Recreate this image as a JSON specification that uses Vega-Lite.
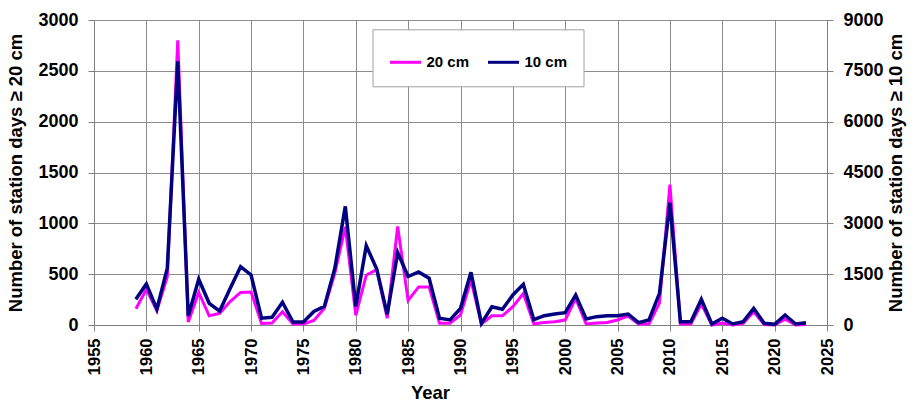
{
  "$schema": "https://vega.github.io/schema/vega-lite/v6.json",
  "width": 733,
  "height": 305,
  "autosize": {"type": "none"},
  "padding": {"left": 94, "top": 20, "right": 91, "bottom": 78},
  "background": "white",
  "config": {
    "view": {"stroke": null},
    "font": "Liberation Sans",
    "axis": {
      "labelFont": "Liberation Sans",
      "labelFontWeight": "bold",
      "labelColor": "black",
      "titleFont": "Liberation Sans",
      "titleFontWeight": "bold",
      "titleColor": "black",
      "titleFontSize": 18.5,
      "domainColor": "#808080",
      "tickColor": "#808080",
      "gridColor": "#8c8c8c",
      "gridWidth": 1,
      "gridOpacity": 1,
      "tickSize": 6
    }
  },
  "datasets": {
    "snow": [
      {"year": 1959, "series": "20 cm", "days": 160}, {"year": 1959, "series": "10 cm", "days": 760},
      {"year": 1960, "series": "20 cm", "days": 350}, {"year": 1960, "series": "10 cm", "days": 1210},
      {"year": 1961, "series": "20 cm", "days": 140}, {"year": 1961, "series": "10 cm", "days": 470},
      {"year": 1962, "series": "20 cm", "days": 475}, {"year": 1962, "series": "10 cm", "days": 1675},
      {"year": 1963, "series": "20 cm", "days": 2800}, {"year": 1963, "series": "10 cm", "days": 7780},
      {"year": 1964, "series": "20 cm", "days": 30}, {"year": 1964, "series": "10 cm", "days": 265},
      {"year": 1965, "series": "20 cm", "days": 320}, {"year": 1965, "series": "10 cm", "days": 1350},
      {"year": 1966, "series": "20 cm", "days": 90}, {"year": 1966, "series": "10 cm", "days": 640},
      {"year": 1967, "series": "20 cm", "days": 115}, {"year": 1967, "series": "10 cm", "days": 410},
      {"year": 1968, "series": "20 cm", "days": 230}, {"year": 1968, "series": "10 cm", "days": 1080},
      {"year": 1969, "series": "20 cm", "days": 320}, {"year": 1969, "series": "10 cm", "days": 1720},
      {"year": 1970, "series": "20 cm", "days": 325}, {"year": 1970, "series": "10 cm", "days": 1476},
      {"year": 1971, "series": "20 cm", "days": 15}, {"year": 1971, "series": "10 cm", "days": 200},
      {"year": 1972, "series": "20 cm", "days": 20}, {"year": 1972, "series": "10 cm", "days": 228},
      {"year": 1973, "series": "20 cm", "days": 130}, {"year": 1973, "series": "10 cm", "days": 670},
      {"year": 1974, "series": "20 cm", "days": 10}, {"year": 1974, "series": "10 cm", "days": 90},
      {"year": 1975, "series": "20 cm", "days": 10}, {"year": 1975, "series": "10 cm", "days": 90},
      {"year": 1976, "series": "20 cm", "days": 45}, {"year": 1976, "series": "10 cm", "days": 400},
      {"year": 1977, "series": "20 cm", "days": 165}, {"year": 1977, "series": "10 cm", "days": 550},
      {"year": 1978, "series": "20 cm", "days": 510}, {"year": 1978, "series": "10 cm", "days": 1675},
      {"year": 1979, "series": "20 cm", "days": 965}, {"year": 1979, "series": "10 cm", "days": 3500},
      {"year": 1980, "series": "20 cm", "days": 95}, {"year": 1980, "series": "10 cm", "days": 550},
      {"year": 1981, "series": "20 cm", "days": 490}, {"year": 1981, "series": "10 cm", "days": 2340},
      {"year": 1982, "series": "20 cm", "days": 545}, {"year": 1982, "series": "10 cm", "days": 1650},
      {"year": 1983, "series": "20 cm", "days": 66}, {"year": 1983, "series": "10 cm", "days": 315},
      {"year": 1984, "series": "20 cm", "days": 970}, {"year": 1984, "series": "10 cm", "days": 2135},
      {"year": 1985, "series": "20 cm", "days": 240}, {"year": 1985, "series": "10 cm", "days": 1430},
      {"year": 1986, "series": "20 cm", "days": 375}, {"year": 1986, "series": "10 cm", "days": 1565},
      {"year": 1987, "series": "20 cm", "days": 375}, {"year": 1987, "series": "10 cm", "days": 1380},
      {"year": 1988, "series": "20 cm", "days": 16}, {"year": 1988, "series": "10 cm", "days": 197},
      {"year": 1989, "series": "20 cm", "days": 16}, {"year": 1989, "series": "10 cm", "days": 148},
      {"year": 1990, "series": "20 cm", "days": 100}, {"year": 1990, "series": "10 cm", "days": 492},
      {"year": 1991, "series": "20 cm", "days": 440}, {"year": 1991, "series": "10 cm", "days": 1555},
      {"year": 1992, "series": "20 cm", "days": 10}, {"year": 1992, "series": "10 cm", "days": 49},
      {"year": 1993, "series": "20 cm", "days": 90}, {"year": 1993, "series": "10 cm", "days": 540},
      {"year": 1994, "series": "20 cm", "days": 90}, {"year": 1994, "series": "10 cm", "days": 463},
      {"year": 1995, "series": "20 cm", "days": 180}, {"year": 1995, "series": "10 cm", "days": 886},
      {"year": 1996, "series": "20 cm", "days": 310}, {"year": 1996, "series": "10 cm", "days": 1200},
      {"year": 1997, "series": "20 cm", "days": 12}, {"year": 1997, "series": "10 cm", "days": 155},
      {"year": 1998, "series": "20 cm", "days": 25}, {"year": 1998, "series": "10 cm", "days": 275},
      {"year": 1999, "series": "20 cm", "days": 33}, {"year": 1999, "series": "10 cm", "days": 325},
      {"year": 2000, "series": "20 cm", "days": 49}, {"year": 2000, "series": "10 cm", "days": 364},
      {"year": 2001, "series": "20 cm", "days": 262}, {"year": 2001, "series": "10 cm", "days": 886},
      {"year": 2002, "series": "20 cm", "days": 10}, {"year": 2002, "series": "10 cm", "days": 177},
      {"year": 2003, "series": "20 cm", "days": 20}, {"year": 2003, "series": "10 cm", "days": 246},
      {"year": 2004, "series": "20 cm", "days": 25}, {"year": 2004, "series": "10 cm", "days": 275},
      {"year": 2005, "series": "20 cm", "days": 49}, {"year": 2005, "series": "10 cm", "days": 275},
      {"year": 2006, "series": "20 cm", "days": 89}, {"year": 2006, "series": "10 cm", "days": 325},
      {"year": 2007, "series": "20 cm", "days": 10}, {"year": 2007, "series": "10 cm", "days": 69},
      {"year": 2008, "series": "20 cm", "days": 10}, {"year": 2008, "series": "10 cm", "days": 148},
      {"year": 2009, "series": "20 cm", "days": 215}, {"year": 2009, "series": "10 cm", "days": 935},
      {"year": 2010, "series": "20 cm", "days": 1380}, {"year": 2010, "series": "10 cm", "days": 3612},
      {"year": 2011, "series": "20 cm", "days": 10}, {"year": 2011, "series": "10 cm", "days": 98},
      {"year": 2012, "series": "20 cm", "days": 10}, {"year": 2012, "series": "10 cm", "days": 98},
      {"year": 2013, "series": "20 cm", "days": 207}, {"year": 2013, "series": "10 cm", "days": 758},
      {"year": 2014, "series": "20 cm", "days": 0}, {"year": 2014, "series": "10 cm", "days": 30},
      {"year": 2015, "series": "20 cm", "days": 20}, {"year": 2015, "series": "10 cm", "days": 197},
      {"year": 2016, "series": "20 cm", "days": 0}, {"year": 2016, "series": "10 cm", "days": 30},
      {"year": 2017, "series": "20 cm", "days": 16}, {"year": 2017, "series": "10 cm", "days": 98},
      {"year": 2018, "series": "20 cm", "days": 131}, {"year": 2018, "series": "10 cm", "days": 492},
      {"year": 2019, "series": "20 cm", "days": 5}, {"year": 2019, "series": "10 cm", "days": 49},
      {"year": 2020, "series": "20 cm", "days": 0}, {"year": 2020, "series": "10 cm", "days": 20},
      {"year": 2021, "series": "20 cm", "days": 56}, {"year": 2021, "series": "10 cm", "days": 295},
      {"year": 2022, "series": "20 cm", "days": 0}, {"year": 2022, "series": "10 cm", "days": 30},
      {"year": 2023, "series": "20 cm", "days": 5}, {"year": 2023, "series": "10 cm", "days": 69}
    ]
  },
  "data": {"name": "snow"},
  "encoding": {
    "x": {
      "field": "year",
      "type": "quantitative",
      "scale": {"domain": [1955, 2025], "nice": false, "zero": false},
      "axis": {
        "values": [1955, 1960, 1965, 1970, 1975, 1980, 1985, 1990, 1995, 2000, 2005, 2010, 2015, 2020, 2025],
        "format": "d",
        "labelAngle": 270,
        "labelFontSize": 16.5,
        "labelPadding": 7,
        "title": "Year",
        "titleX": 336,
        "titleY": 73,
        "titleAlign": "center",
        "titleBaseline": "alphabetic",
        "grid": true
      }
    },
    "color": {
      "field": "series",
      "type": "nominal",
      "scale": {"domain": ["20 cm", "10 cm"], "range": ["#ff00ff", "#000080"]},
      "legend": {
        "title": null,
        "orient": "none",
        "legendX": 278.5,
        "legendY": 9.3,
        "direction": "horizontal",
        "symbolType": "stroke",
        "symbolSize": 961,
        "symbolStrokeWidth": 3,
        "labelFont": "Liberation Sans",
        "labelFontSize": 15,
        "labelFontWeight": "bold",
        "labelColor": "black",
        "labelOffset": 4,
        "columnPadding": 12,
        "padding": 16,
        "strokeColor": "#a0a0a0",
        "fillColor": "white",
        "cornerRadius": 0
      }
    }
  },
  "layer": [
    {
      "transform": [{"filter": "datum.series === '20 cm'"}],
      "mark": {"type": "line", "strokeWidth": 3},
      "encoding": {
        "y": {
          "field": "days",
          "type": "quantitative",
          "scale": {"domain": [0, 3000], "nice": false},
          "axis": {
            "orient": "left",
            "values": [0, 500, 1000, 1500, 2000, 2500, 3000],
            "format": "d",
            "labelFontSize": 18,
            "labelPadding": 10,
            "title": "Number of station days ≥ 20 cm",
            "titlePadding": 12,
            "grid": true
          }
        }
      }
    },
    {
      "transform": [{"filter": "datum.series === '10 cm'"}],
      "mark": {"type": "line", "strokeWidth": 3.5},
      "encoding": {
        "y": {
          "field": "days",
          "type": "quantitative",
          "scale": {"domain": [0, 9000], "nice": false},
          "axis": {
            "orient": "right",
            "values": [0, 1500, 3000, 4500, 6000, 7500, 9000],
            "format": "d",
            "labelFontSize": 18,
            "labelPadding": 10,
            "title": "Number of station days ≥ 10 cm",
            "titleAngle": 270,
            "titlePadding": 22,
            "grid": false
          }
        }
      }
    }
  ],
  "resolve": {"scale": {"y": "independent"}, "axis": {"y": "independent"}}
}
